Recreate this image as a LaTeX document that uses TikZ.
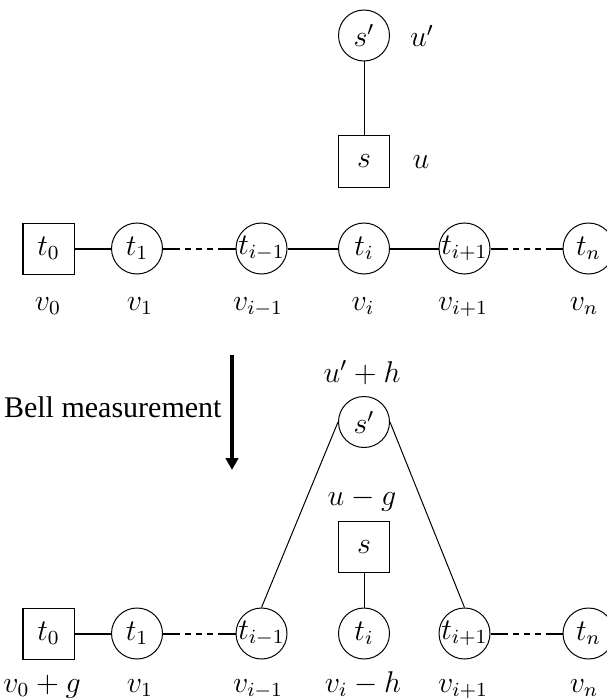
\documentclass[tikz,border=0pt,12pt]{standalone}
\usepackage{fontspec}
\newfontfamily\bellfont{Liberation Serif}
\usetikzlibrary{arrows.meta, positioning}

% fixed-size circles: the label takes no width
\newcommand{\qlab}[1]{\makebox[0pt]{$#1$}}

\begin{document}
\begin{tikzpicture}[
		x=0.4pt, y=-0.4pt,
		qubit/.style={circle, draw, thin, minimum size=20.4pt, inner sep=0pt},
		stab/.style={rectangle, draw, thin, minimum size=20.4pt, inner sep=0pt},
		lbl/.style={inner sep=0pt},
		vlbl/.style={inner sep=0pt, anchor=base},
		link/.style={thick},
		broken/.style={thick, dash pattern=on 6.8pt off 2pt on 2.4pt off 2pt on 2.4pt off 2pt on 2.4pt off 2pt on 14pt off 0pt},
		bond/.style={thin},
		measure/.style={line width=1.6pt, -{Triangle[width=5pt, length=4.8pt]}}
		]
		
		\useasboundingbox (0,0) rectangle (606,699);
		
		% ==========================================
		% 1. BEFORE THE MEASUREMENT
		% ==========================================
		\node[qubit] (sp) at (364,35.5) {$s'$};
		\node[lbl] (up) at (422,36) {$u'$};
		\node[stab] (s) at (364,161.5) {$s$};
		\node[lbl] (u) at (421,162) {$u$};
		\draw[bond] (sp) -- (s);
		
		\node[stab] (t0) at (48.5,248.5) {$t_0$};
		\node[qubit] (t1) at (137,248.5) {$t_1$};
		\node[qubit] (tim) at (261.5,248.5) {\qlab{t_{i-1}}};
		\node[qubit] (ti) at (364,248.5) {$t_i$};
		\node[qubit] (tip) at (464.5,248.5) {\qlab{t_{i+1}}};
		\node[qubit] (tn) at (588.5,248.5) {$t_n$};
		
		\draw[link] (t0) -- (t1);
		\draw[broken] (t1) -- (tim);
		\draw[link] (tim) -- (ti);
		\draw[link] (ti) -- (tip);
		\draw[broken] (tip) -- (tn);
		
		\node[vlbl] (v0) at (48,310) {$v_0$};
		\node[vlbl] (v1) at (140,310) {$v_1$};
		\node[vlbl] (vim) at (258,310) {$v_{i-1}$};
		\node[vlbl] (vi) at (363,310) {$v_i$};
		\node[vlbl] (vip) at (463,310) {$v_{i+1}$};
		\node[vlbl] (vn) at (584,310) {$v_n$};
		
		% ==========================================
		% 2. BELL MEASUREMENT
		% ==========================================
		\coordinate (mtop) at (232,355);
		\coordinate (mbot) at (232,470);
		\draw[measure] (mtop) -- (mbot);
		\node[lbl, anchor=east, font=\bellfont] (bell) at (222,407) {Bell measurement};
		
		% ==========================================
		% 3. AFTER THE MEASUREMENT
		% ==========================================
		\node[lbl] (uph) at (362,373) {$u'+h$};
		\node[qubit] (sp2) at (364,422) {$s'$};
		\node[lbl] (umg) at (362,500) {$u-g$};
		\node[stab] (s2) at (364,547) {$s$};
		
		\node[stab] (t0b) at (48.5,633.5) {$t_0$};
		\node[qubit] (t1b) at (137,633.5) {$t_1$};
		\node[qubit] (timb) at (261.5,633.5) {\qlab{t_{i-1}}};
		\node[qubit] (tib) at (364,633.5) {$t_i$};
		\node[qubit] (tipb) at (464.5,633.5) {\qlab{t_{i+1}}};
		\node[qubit] (tnb) at (588.5,633.5) {$t_n$};
		
		\draw[link] (t0b) -- (t1b);
		\draw[broken] (t1b) -- (timb);
		\draw[broken] (tipb) -- (tnb);
		\draw[bond] (sp2.west) -- (timb.north);
		\draw[bond] (sp2.east) -- (tipb.north);
		\draw[bond] (s2) -- (tib);
		
		\node[vlbl] (v0b) at (42,692) {$v_0+g$};
		\node[vlbl] (v1b) at (140,692) {$v_1$};
		\node[vlbl] (vimb) at (258,692) {$v_{i-1}$};
		\node[vlbl] (vib) at (363,692) {$v_i-h$};
		\node[vlbl] (vipb) at (463,692) {$v_{i+1}$};
		\node[vlbl] (vnb) at (584,692) {$v_n$};
		
	\end{tikzpicture}
\end{document}
